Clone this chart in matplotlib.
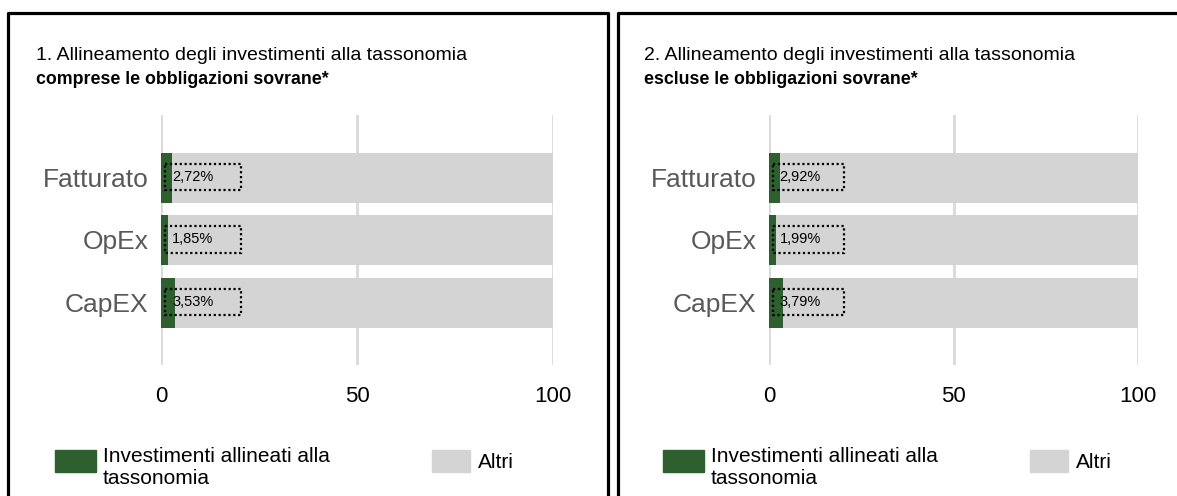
import matplotlib
matplotlib.use("Agg")
import matplotlib.pyplot as plt
from matplotlib.patches import Rectangle
from matplotlib.lines import Line2D

# ---------------- data ----------------
categories = ["Fatturato", "OpEx", "CapEX"]
aligned_incl = [2.72, 1.85, 3.53]
others_incl = [97.28, 98.15, 96.47]
aligned_excl = [2.92, 1.99, 3.79]
others_excl = [97.08, 98.01, 96.21]
labels_incl = ["2,72%", "1,85%", "3,53%"]
labels_excl = ["2,92%", "1,99%", "3,79%"]
xticks = [0, 50, 100]
titles_line1 = ["1. Allineamento degli investimenti alla tassonomia",
                "2. Allineamento degli investimenti alla tassonomia"]
titles_line2 = ["comprese le obbligazioni sovrane*",
                "escluse le obbligazioni sovrane*"]
legend_labels = ["Investimenti allineati alla", "tassonomia", "Altri"]

# ---------------- style ----------------
W, H = 1177, 496
GREEN = "#2e5f2f"
GREY = "#d4d4d4"
GRID = "#d9d9d9"
CAT = "#595959"
FONT = ["Liberation Sans", "DejaVu Sans"]
plt.rcParams["font.family"] = FONT

fig = plt.figure(figsize=(W / 100, H / 100), dpi=100)


def fx(px):
    return px / W


def fy(py):
    return 1 - py / H


def fig_line(xs, ys, lw=2.3):
    fig.add_artist(Line2D([fx(x) for x in xs], [fy(y) for y in ys],
                          color="black", lw=lw, solid_capstyle="projecting"))


# panel frames
fig_line([7.5, 7.5, 607.5, 607.5], [500, 12.5, 12.5, 500])
fig_line([617.5, 617.5, 1180], [500, 12.5, 12.5])

panels = [
    dict(x0=161, x1=553, off=0, aligned=aligned_incl, others=others_incl,
         labels=labels_incl, t1=titles_line1[0], t2=titles_line2[0]),
    dict(x0=769, x1=1138, off=608, aligned=aligned_excl, others=others_excl,
         labels=labels_excl, t1=titles_line1[1], t2=titles_line2[1]),
]

top_px, bot_px = 115, 365
for p in panels:
    ax = fig.add_axes([fx(p["x0"]), fy(bot_px), fx(p["x1"] - p["x0"]),
                       (bot_px - top_px) / H])
    ypos = list(range(len(categories)))
    ax.barh(ypos, p["aligned"], height=0.8, color=GREEN, zorder=3)
    ax.barh(ypos, p["others"], left=p["aligned"], height=0.8, color=GREY,
            zorder=2)
    ax.set_xlim(0, 100)
    ax.set_ylim(3.0, -1.0)
    ax.set_xticks(xticks)
    ax.set_yticks(ypos)
    ax.set_yticklabels(categories, color=CAT, fontsize=19)
    ax.tick_params(axis="x", length=0, pad=15, labelsize=16)
    ax.tick_params(axis="y", length=0, pad=9)
    ax.grid(axis="x", color=GRID, lw=2, zorder=0)
    ax.set_axisbelow(True)
    for s in ax.spines.values():
        s.set_visible(False)
    # dotted label boxes
    for yi, lab in zip(ypos, p["labels"]):
        ax.add_patch(Rectangle((1.0, yi - 0.22), 19.4, 0.42, fill=False,
                               ec="black", ls=(0, (1, 1.2)), lw=1.6,
                               zorder=5))
        ax.text(2.9, yi - 0.01, lab, fontsize=10.5, va="center", ha="left",
                color="black", zorder=6)

    off = p["off"]
    fig.text(fx(36 + off), fy(60), p["t1"], fontsize=14, va="baseline",
             ha="left")
    fig.text(fx(36 + off), fy(84), p["t2"], fontsize=12.8, weight="bold",
             va="baseline", ha="left")

    # legend
    fig.add_artist(Rectangle((fx(55 + off), fy(472)), fx(41), 22 / H,
                             color=GREEN, transform=fig.transFigure))
    fig.text(fx(103 + off), fy(456), legend_labels[0], fontsize=15,
             va="center", ha="left")
    fig.text(fx(103 + off), fy(479), legend_labels[1], fontsize=15,
             va="center", ha="left")
    gx = 432 + (off * 598 / 608 if off else 0)
    fig.add_artist(Rectangle((fx(gx), fy(472)), fx(38), 22 / H,
                             color=GREY, transform=fig.transFigure))
    fig.text(fx(gx + 46), fy(463), legend_labels[2], fontsize=15,
             va="center", ha="left")

fig.savefig("out.png", dpi=100)
